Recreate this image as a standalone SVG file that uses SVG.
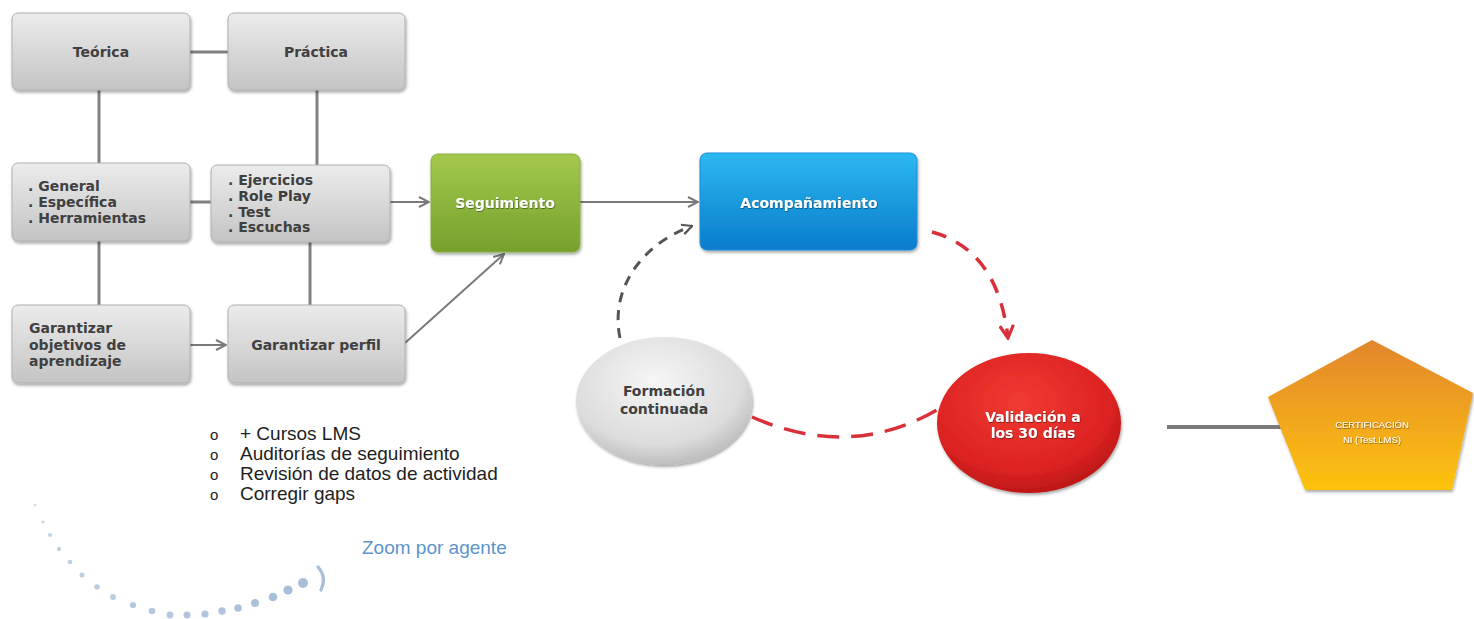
<svg xmlns="http://www.w3.org/2000/svg" width="1474" height="619" viewBox="0 0 1474 619">
<defs>
  <linearGradient id="gGray" x1="0" y1="0" x2="0" y2="1">
    <stop offset="0" stop-color="#ececec"/>
    <stop offset="1" stop-color="#c4c4c4"/>
  </linearGradient>
  <linearGradient id="gGreen" x1="0" y1="0" x2="0" y2="1">
    <stop offset="0" stop-color="#a4c94e"/>
    <stop offset="1" stop-color="#76a02c"/>
  </linearGradient>
  <linearGradient id="gBlue" x1="0" y1="0" x2="0" y2="1">
    <stop offset="0" stop-color="#2cb8f0"/>
    <stop offset="1" stop-color="#0a7ccc"/>
  </linearGradient>
  <radialGradient id="gRed" cx="0.45" cy="0.35" r="0.7">
    <stop offset="0" stop-color="#f03a32"/>
    <stop offset="0.7" stop-color="#dc2222"/>
    <stop offset="1" stop-color="#b41414"/>
  </radialGradient>
  <radialGradient id="gEll" cx="0.45" cy="0.35" r="0.7">
    <stop offset="0" stop-color="#f6f6f6"/>
    <stop offset="0.7" stop-color="#dcdcdc"/>
    <stop offset="1" stop-color="#b4b4b4"/>
  </radialGradient>
  <linearGradient id="gOrange" x1="0" y1="0" x2="0" y2="1">
    <stop offset="0" stop-color="#e2862e"/>
    <stop offset="1" stop-color="#fec30e"/>
  </linearGradient>
  <filter id="sh" x="-10%" y="-10%" width="125%" height="130%">
    <feDropShadow dx="1" dy="2" stdDeviation="1.8" flood-color="#000" flood-opacity="0.35"/>
  </filter>
  <filter id="ts" x="-5%" y="-20%" width="110%" height="150%">
    <feDropShadow dx="0.6" dy="0.8" stdDeviation="0.6" flood-color="#000" flood-opacity="0.5"/>
  </filter>
  <marker id="ah" viewBox="0 0 12 12" refX="11" refY="6" markerWidth="12" markerHeight="12" markerUnits="userSpaceOnUse" orient="auto">
    <path d="M1,1 L11,6 L1,11" fill="none" stroke="#7a7a7a" stroke-width="2"/>
  </marker>
  <marker id="ahd" viewBox="0 0 12 12" refX="11" refY="6" markerWidth="12" markerHeight="12" markerUnits="userSpaceOnUse" orient="auto">
    <path d="M1,1 L11,6 L1,11" fill="none" stroke="#555" stroke-width="2.2"/>
  </marker>
  <marker id="ahr" viewBox="0 0 14 14" refX="12" refY="7" markerWidth="16" markerHeight="16" markerUnits="userSpaceOnUse" orient="auto">
    <path d="M1,1 L12,7 L1,13" fill="none" stroke="#d8313a" stroke-width="2.8"/>
  </marker>
</defs>
<style>
  .box { fill: url(#gGray); stroke: #b0b0b0; stroke-width: 1; filter: url(#sh); }
  .bt { font-family: "DejaVu Sans", "Liberation Sans", sans-serif; font-weight: bold; font-size: 14px; fill: #404040; }
  .wt { font-family: "DejaVu Sans", "Liberation Sans", sans-serif; font-weight: bold; font-size: 14px; fill: #ffffff; filter: url(#ts); }
  .ln { stroke: #808080; stroke-width: 3; fill: none; }
  .ar { stroke: #7a7a7a; stroke-width: 2; fill: none; marker-end: url(#ah); }
  .bl { font-family: "Liberation Sans", Arial, sans-serif; font-size: 19px; fill: #1e1e1e; }
  .bo { font-family: "Liberation Sans", Arial, sans-serif; font-size: 15px; fill: #1e1e1e; }
  .dot { fill: #a7bfd8; }
</style>

<g id="connectors">
  <line class="ln" x1="190" y1="52" x2="228" y2="52"/>
  <line class="ln" x1="190" y1="202" x2="211" y2="202"/>
  <line class="ln" x1="99" y1="90" x2="99" y2="163"/>
  <line class="ln" x1="317" y1="90" x2="317" y2="165"/>
  <line class="ln" x1="99" y1="241" x2="99" y2="305"/>
  <line class="ln" x1="310" y1="242" x2="310" y2="305"/>
  <line class="ar" x1="190" y1="345" x2="226" y2="345"/>
  <line class="ar" x1="390" y1="202" x2="429" y2="202"/>
  <line class="ar" x1="405" y1="343" x2="504" y2="254"/>
  <line class="ar" x1="580" y1="202" x2="698" y2="202"/>
  <path d="M620,338 C610,290 640,245 692,226" fill="none" stroke="#555" stroke-width="3" stroke-dasharray="10 8" marker-end="url(#ahd)"/>
  <path d="M932,232 Q998,250 1008,338" fill="none" stroke="#d8313a" stroke-width="3.5" stroke-dasharray="15 11" marker-end="url(#ahr)"/>
  <path d="M752,417 Q850,460 937,410" fill="none" stroke="#d8313a" stroke-width="3.5" stroke-dasharray="22 12"/>
  <line x1="1167" y1="427" x2="1282" y2="427" stroke="#7a7a7a" stroke-width="4"/>
</g>

<g id="n-teorica">
  <rect class="box" x="12" y="13" width="178" height="77" rx="6"/>
  <text class="bt" x="101" y="57" text-anchor="middle">Teórica</text>
</g>
<g id="n-practica">
  <rect class="box" x="228" y="13" width="177" height="77" rx="6"/>
  <text class="bt" x="316" y="57" text-anchor="middle">Práctica</text>
</g>
<g id="n-general">
  <rect class="box" x="12" y="163" width="178" height="78" rx="6"/>
  <text class="bt" x="28" y="191">. General</text>
  <text class="bt" x="28" y="207">. Específica</text>
  <text class="bt" x="28" y="223">. Herramientas</text>
</g>
<g id="n-ejercicios">
  <rect class="box" x="211" y="165" width="179" height="77" rx="6"/>
  <text class="bt" x="228" y="185">. Ejercicios</text>
  <text class="bt" x="228" y="201">. Role Play</text>
  <text class="bt" x="228" y="217">. Test</text>
  <text class="bt" x="228" y="232">. Escuchas</text>
</g>
<g id="n-objetivos">
  <rect class="box" x="12" y="305" width="178" height="78" rx="6"/>
  <text class="bt" x="29" y="333">Garantizar</text>
  <text class="bt" x="29" y="350">objetivos de</text>
  <text class="bt" x="29" y="366">aprendizaje</text>
</g>
<g id="n-perfil">
  <rect class="box" x="228" y="305" width="177" height="78" rx="6"/>
  <text class="bt" x="316" y="350" text-anchor="middle">Garantizar perfil</text>
</g>
<g id="n-seguimiento">
  <rect x="431" y="154" width="149" height="98" rx="7" fill="url(#gGreen)" stroke="#8ab040" stroke-width="1" filter="url(#sh)"/>
  <text class="wt" x="505" y="208" text-anchor="middle">Seguimiento</text>
</g>
<g id="n-acompanamiento">
  <rect x="700" y="153" width="217" height="97" rx="7" fill="url(#gBlue)" stroke="#1a8ed8" stroke-width="1" filter="url(#sh)"/>
  <text class="wt" x="809" y="208" text-anchor="middle">Acompañamiento</text>
</g>
<g id="n-formacion">
  <ellipse cx="664" cy="401" rx="88" ry="64" fill="url(#gEll)" filter="url(#sh)"/>
  <text class="bt" x="664" y="396" text-anchor="middle" font-size="13.5">Formación</text>
  <text class="bt" x="664" y="414" text-anchor="middle" font-size="13.5">continuada</text>
</g>
<g id="n-validacion">
  <ellipse cx="1029" cy="423" rx="92" ry="70" fill="url(#gRed)" filter="url(#sh)"/>
  <text class="wt" x="1033" y="422" text-anchor="middle" font-size="13.5">Validación a</text>
  <text class="wt" x="1033" y="438" text-anchor="middle" font-size="13.5">los 30 días</text>
</g>
<g id="n-certificacion">
  <polygon points="1372,340 1473,393 1452,490 1305,490 1268,397" fill="url(#gOrange)" filter="url(#sh)"/>
  <text x="1372" y="428" text-anchor="middle" font-family="Liberation Sans, Arial, sans-serif" font-size="9.5" fill="#fff" filter="url(#ts)">CERTIFICACIÓN</text>
  <text x="1372" y="443" text-anchor="middle" font-family="Liberation Sans, Arial, sans-serif" font-size="9.5" fill="#fff" filter="url(#ts)">NI (Test.LMS)</text>
</g>

<g id="bullets">
  <text class="bo" x="210" y="440">o</text>
  <text class="bl" x="240" y="440">+ Cursos LMS</text>
  <text class="bo" x="210" y="460">o</text>
  <text class="bl" x="240" y="460">Auditorías de seguimiento</text>
  <text class="bo" x="210" y="480">o</text>
  <text class="bl" x="240" y="480">Revisión de datos de actividad</text>
  <text class="bo" x="210" y="500">o</text>
  <text class="bl" x="240" y="500">Corregir gaps</text>
  <text x="362" y="554" font-family="Liberation Sans, Arial, sans-serif" font-size="19" fill="#5b95cc">Zoom por agente</text>
</g>

<g id="deco">
  <circle class="dot" cx="35" cy="505" r="1.3" opacity="0.6"/>
  <circle class="dot" cx="43" cy="522" r="1.6" opacity="0.65"/>
  <circle class="dot" cx="50" cy="535" r="2.1" opacity="0.7"/>
  <circle class="dot" cx="59" cy="549" r="2.2" opacity="0.7"/>
  <circle class="dot" cx="70" cy="562" r="2.3" opacity="0.75"/>
  <circle class="dot" cx="82" cy="575" r="2.5" opacity="0.75"/>
  <circle class="dot" cx="97" cy="587" r="2.7" opacity="0.8"/>
  <circle class="dot" cx="113" cy="597" r="3.0" opacity="0.8"/>
  <circle class="dot" cx="133" cy="605" r="3.1" opacity="0.85"/>
  <circle class="dot" cx="152" cy="611" r="3.3" opacity="0.85"/>
  <circle class="dot" cx="170" cy="615" r="3.4" opacity="0.85"/>
  <circle class="dot" cx="187" cy="615" r="3.5" opacity="0.9"/>
  <circle class="dot" cx="205" cy="614" r="3.6" opacity="0.9"/>
  <circle class="dot" cx="222" cy="611" r="3.7" opacity="0.9"/>
  <circle class="dot" cx="238" cy="608" r="3.8" opacity="0.95"/>
  <circle class="dot" cx="255" cy="603" r="4.0" opacity="0.95"/>
  <circle class="dot" cx="273" cy="597" r="4.3"/>
  <circle class="dot" cx="288" cy="590" r="4.6"/>
  <circle class="dot" cx="303" cy="583" r="5.0"/>
  <path d="M318,567 Q327,577 321,590" fill="none" stroke="#a7bfd8" stroke-width="3.2" stroke-linecap="round"/>
</g>
</svg>
